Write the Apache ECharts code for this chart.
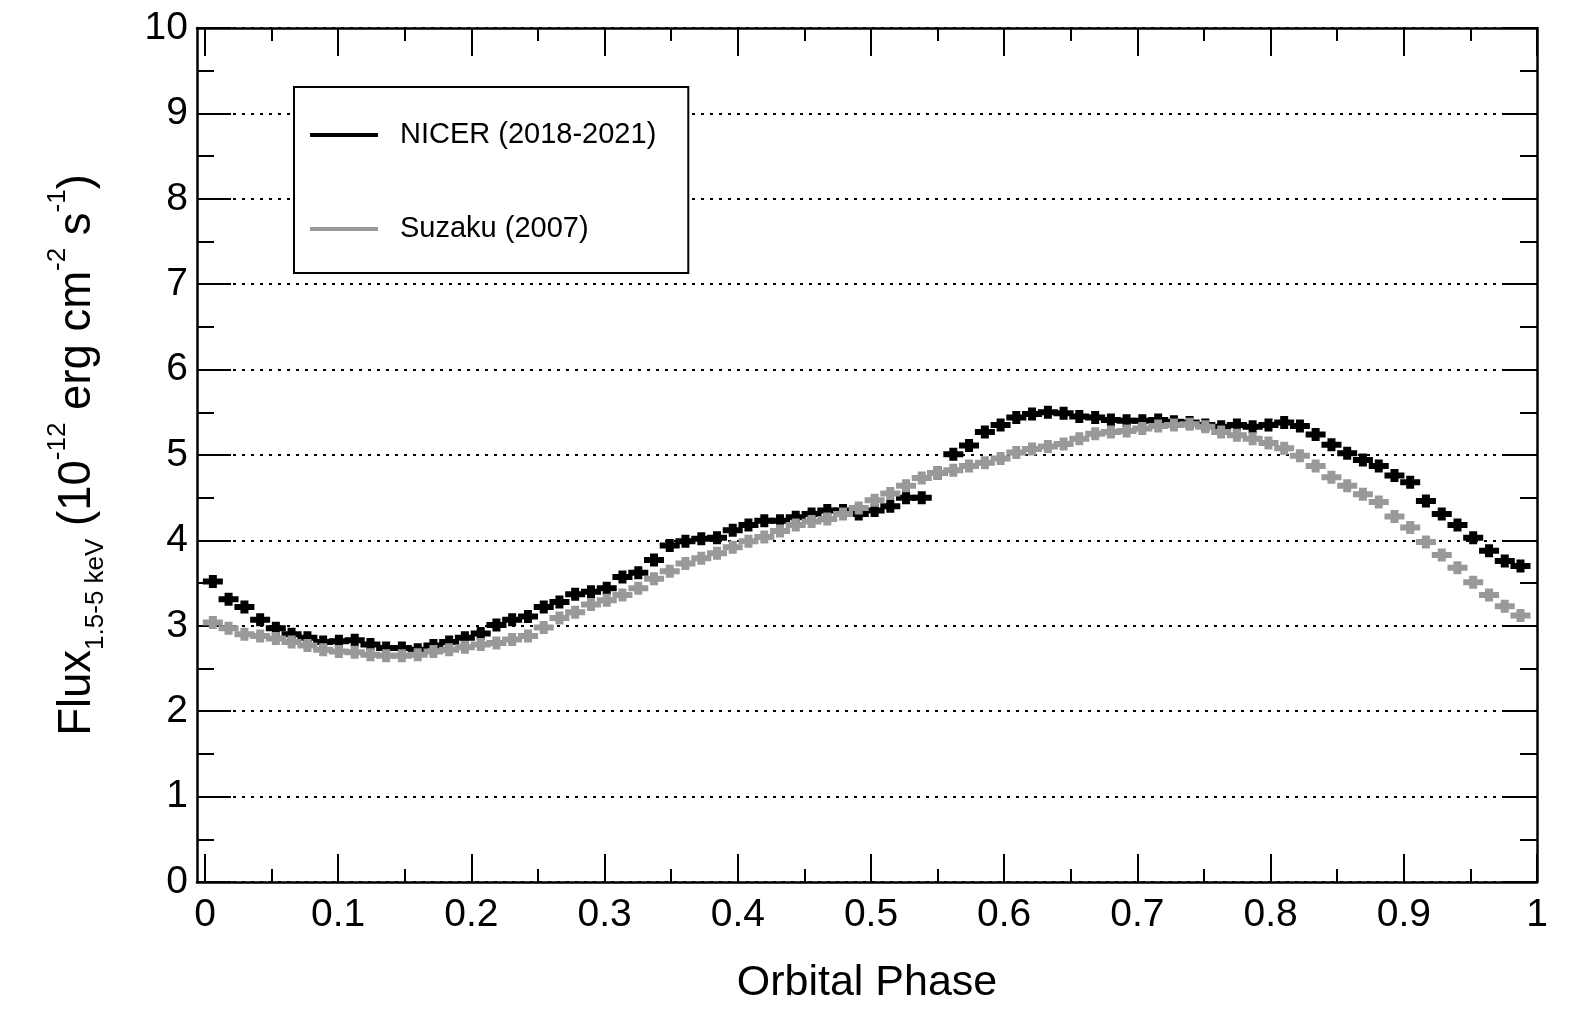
<!DOCTYPE html>
<html>
<head>
<meta charset="utf-8">
<script src="https://cdn.jsdelivr.net/npm/echarts@6/dist/echarts.min.js"></script>
<style>
html,body{margin:0;padding:0;background:#fff;}
#chart{width:1589px;height:1010px;}
</style>
</head>
<body>
<div id="chart"></div>
<script>
// Orbital phase bin centres
var phase = [0.0059,0.0177,0.0296,0.0414,0.0532,0.0650,0.0769,0.0887,0.1005,0.1124,
0.1242,0.1360,0.1478,0.1597,0.1715,0.1833,0.1951,0.2070,0.2188,0.2306,
0.2425,0.2543,0.2661,0.2779,0.2898,0.3016,0.3134,0.3253,0.3371,0.3489,
0.3607,0.3726,0.3844,0.3962,0.4080,0.4199,0.4317,0.4435,0.4554,0.4672,
0.4790,0.4908,0.5027,0.5145,0.5263,0.5381,0.5500,0.5618,0.5736,0.5855,
0.5973,0.6091,0.6209,0.6328,0.6446,0.6564,0.6683,0.6801,0.6919,0.7037,
0.7156,0.7274,0.7392,0.7510,0.7629,0.7747,0.7865,0.7984,0.8102,0.8220,
0.8338,0.8457,0.8575,0.8693,0.8812,0.8930,0.9048,0.9166,0.9285,0.9403,
0.9521,0.9640,0.9758,0.9876];

// NICER (2018-2021) flux, 1e-12 erg/cm2/s
var nicer = [3.52,3.31,3.22,3.07,2.97,2.90,2.86,2.81,2.82,2.83,
2.78,2.74,2.74,2.72,2.77,2.81,2.86,2.91,3.01,3.07,
3.11,3.22,3.28,3.37,3.40,3.44,3.57,3.62,3.77,3.94,
3.99,4.02,4.03,4.12,4.18,4.23,4.23,4.27,4.31,4.35,
4.35,4.31,4.35,4.40,4.50,4.50,4.79,5.01,5.11,5.27,
5.35,5.44,5.48,5.50,5.49,5.45,5.44,5.41,5.40,5.40,
5.41,5.39,5.38,5.35,5.33,5.35,5.33,5.35,5.38,5.34,
5.24,5.12,5.02,4.94,4.87,4.76,4.68,4.46,4.31,4.18,
4.03,3.88,3.76,3.70];

// Suzaku (2007) flux
var suzaku = [3.04,2.97,2.90,2.88,2.85,2.81,2.77,2.72,2.70,2.69,
2.66,2.65,2.65,2.66,2.70,2.72,2.75,2.78,2.80,2.84,
2.88,2.98,3.09,3.16,3.25,3.30,3.36,3.44,3.55,3.64,
3.73,3.79,3.85,3.92,3.99,4.04,4.11,4.18,4.22,4.25,
4.31,4.38,4.47,4.55,4.64,4.73,4.79,4.82,4.87,4.91,
4.96,5.03,5.07,5.10,5.13,5.19,5.25,5.27,5.28,5.31,
5.34,5.35,5.36,5.33,5.27,5.23,5.19,5.14,5.08,4.99,
4.87,4.74,4.64,4.54,4.45,4.28,4.15,3.98,3.83,3.68,
3.51,3.36,3.23,3.12];

var xMajorTicks = [0,0.1,0.2,0.3,0.4,0.5,0.6,0.7,0.8,0.9,1];
var xMinorTicks = [0.05,0.15,0.25,0.35,0.45,0.55,0.65,0.75,0.85,0.95];
var yMinorTicks = [0.5,1.5,2.5,3.5,4.5,5.5,6.5,7.5,8.5,9.5];
var seriesNames = ['NICER (2018-2021)','Suzaku (2007)'];

function pairs(xs, ys){ return xs.map(function(x,i){ return [x, ys[i]]; }); }

var FONT = '"Liberation Sans", Arial, Helvetica, sans-serif';
var plusPath = 'path://M0,3.5H6V0H14V3.5H20V9.5H14V13H6V9.5H0Z';

var X_MIN = -0.006, X_MAX = 1;

function xAxisBase(pos, ticks, len, showLine){
  return {
    type:'value', position:pos, min:X_MIN, max:X_MAX,
    axisLine:{show:showLine, onZero:false, lineStyle:{color:'#000', width:2.5}},
    axisTick:{show:true, inside:true, length:len, customValues:ticks, lineStyle:{color:'#000', width:2}},
    axisLabel:{show:false},
    splitLine:{show:false}
  };
}
function yAxisBase(pos, ticks, len, showLine){
  var a = {
    type:'value', position:pos, min:0, max:10,
    axisLine:{show:showLine, onZero:false, lineStyle:{color:'#000', width:2.5}},
    axisTick:{show:true, inside:true, length:len, lineStyle:{color:'#000', width:2}},
    axisLabel:{show:false},
    splitLine:{show:false}
  };
  if (ticks) a.axisTick.customValues = ticks; else a.interval = 1;
  return a;
}

var xMain = xAxisBase('bottom', xMajorTicks, 28, true);
xMain.axisLabel = {show:true, customValues:xMajorTicks, fontSize:39, fontFamily:FONT, color:'#000', margin:14,
  formatter:function(v){ return String(Math.round(v*10)/10); }};
xMain.name = 'Orbital Phase';
xMain.nameLocation = 'middle';
xMain.nameGap = 80;
xMain.nameTextStyle = {fontSize:43, fontFamily:FONT, color:'#000'};

var yMain = yAxisBase('left', null, 34, true);
yMain.axisLabel = {show:true, fontSize:39, fontFamily:FONT, color:'#000', margin:9};
yMain.splitLine = {show:true, lineStyle:{color:'#000', width:2, type:[3,6]}};
yMain.name = '{m|Flux}{sub|1.5-5 keV}{m| (10}{sup|-12}{m| erg cm}{sup|-2}{m| s}{sup|-1}{m|)}';
yMain.nameLocation = 'middle';
yMain.nameRotate = 90;
yMain.nameGap = 88;
yMain.nameTextStyle = {
  fontFamily:FONT, color:'#000',
  rich:{
    m:{fontSize:45.5, lineHeight:64, verticalAlign:'middle', fontFamily:FONT, color:'#000'},
    sub:{fontSize:26, lineHeight:26, verticalAlign:'bottom', fontFamily:FONT, color:'#000'},
    sup:{fontSize:26, lineHeight:26, verticalAlign:'top', fontFamily:FONT, color:'#000'}
  }
};

var option = {
  animation:false,
  backgroundColor:'#fff',
  grid:{left:197, right:52, top:28, bottom:126, containLabel:false},
  xAxis:[
    xMain,
    xAxisBase('bottom', xMinorTicks, 13, false),
    xAxisBase('top', xMajorTicks, 28, true),
    xAxisBase('top', xMinorTicks, 13, false)
  ],
  yAxis:[
    yMain,
    yAxisBase('left', yMinorTicks, 17, false),
    yAxisBase('right', null, 34, true),
    yAxisBase('right', yMinorTicks, 17, false)
  ],
  legend:{
    orient:'vertical', left:294, top:87,
    data:[{name:seriesNames[0], icon:'rect'},{name:seriesNames[1], icon:'rect'}],
    itemWidth:68, itemHeight:4, itemGap:54,
    padding:[28,32,24,16],
    borderColor:'#000', borderWidth:2, borderRadius:0,
    backgroundColor:'#fff',
    selectedMode:false,
    textStyle:{fontSize:29, fontFamily:FONT, color:'#000', lineHeight:40, padding:[0,0,0,17]}
  },
  series:[
    {name:seriesNames[0], type:'scatter', xAxisIndex:0, yAxisIndex:0,
     data:pairs(phase, nicer), symbol:plusPath, symbolSize:[20,13],
     itemStyle:{color:'#000', opacity:1}, z:3},
    {name:seriesNames[1], type:'scatter', xAxisIndex:0, yAxisIndex:0,
     data:pairs(phase, suzaku), symbol:plusPath, symbolSize:[20,13],
     itemStyle:{color:'#999', opacity:1}, z:4}
  ]
};

var chart = echarts.init(document.getElementById('chart'), null, {renderer:'canvas'});
chart.setOption(option);
</script>
</body>
</html>
